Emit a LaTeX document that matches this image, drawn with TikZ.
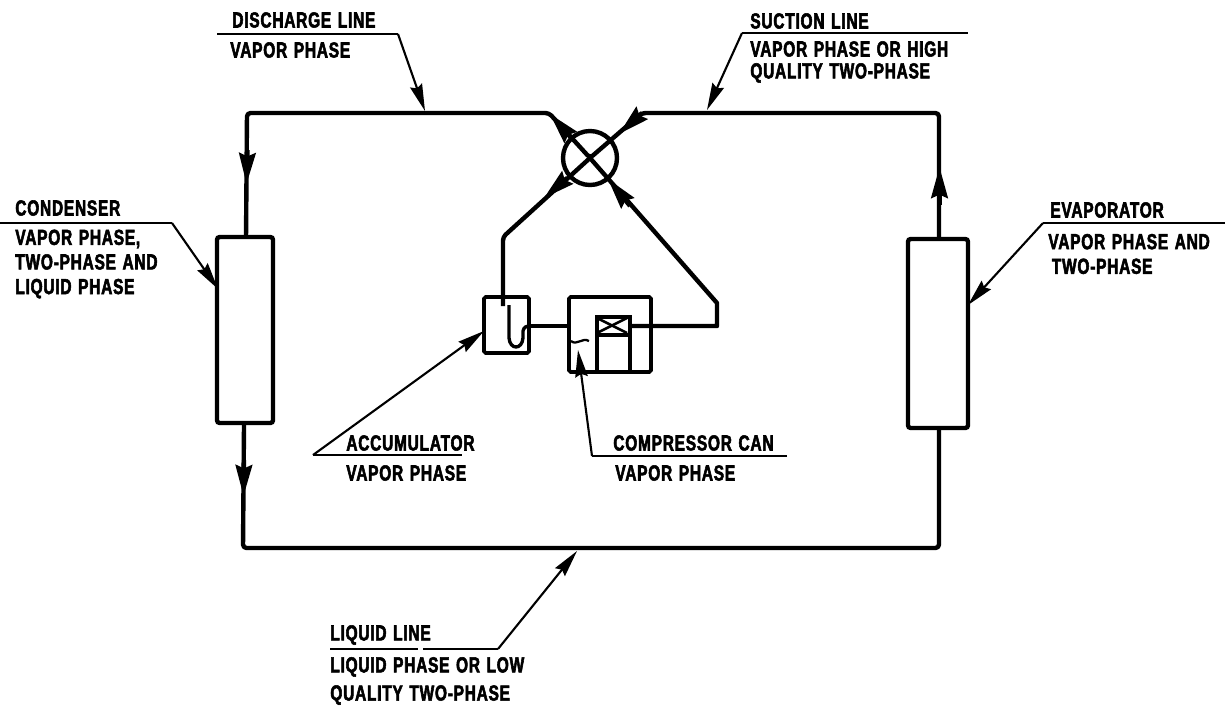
\documentclass[tikz,border=0pt]{standalone}
\usepackage{fontspec}
\newfontfamily\labelfont[FakeStretch=0.71, LetterSpace=3.5, WordSpace=1.3, BoldFont={Liberation Sans Bold}, BoldFeatures={FakeBold=2.5}]{Liberation Sans}
\usetikzlibrary{arrows.meta}
\tikzset{
    pipe/.style={line width=2.5pt, line join=round},
    leader/.style={line width=1.2pt, >={Stealth[length=0.54cm, width=0.25cm, inset=0.06cm]}},
    caption/.style={anchor=west, inner sep=0pt, align=left, font=\fontsize{12.4}{14}\labelfont\bfseries},
    unit/.style={draw, line width=2.5pt, fill=white, rounded corners=1.5pt}
}
\begin{document}
\begin{tikzpicture}[x=0.02cm, y=-0.02cm, >={Stealth[length=0.62cm, width=0.33cm, inset=0.07cm]}]
    % 1. Page frame
    \useasboundingbox (0, 0) rectangle (1225, 708);

    % 2. Points of the loop
    \coordinate (cornerTL) at (247, 113);
    \coordinate (cornerTR) at (939, 113);
    \coordinate (cornerBL) at (243, 548);
    \coordinate (cornerBR) at (939, 548);
    \coordinate (bendTL) at (549, 113);
    \coordinate (bendTR) at (642, 113);
    \coordinate (bendA) at (503, 237);
    \coordinate (bendC) at (717, 303);
    \coordinate (bendD) at (717, 326);

    % 3. Loop lines
    \draw[pipe, rounded corners=2pt] (246, 240) -- (cornerTL) -- (bendTL) -- (590, 158) -- (bendTR) -- (cornerTR) -- (939, 240);
    \draw[pipe, rounded corners=2pt] (244, 425) -- (cornerBL) -- (cornerBR) -- (939, 428);
    \draw[pipe, rounded corners=2pt] (503, 306) -- (bendA) -- (590, 158);
    \draw[pipe] (590, 158) -- (bendC) -- (bendD) -- (630, 326);

    % 4. Main units
    \node[unit, minimum width=1.12cm, minimum height=3.72cm] (condenser) at (245, 330) {};
    \node[unit, minimum width=1.2cm, minimum height=3.78cm] (evaporator) at (938, 333.5) {};
    \node[draw, circle, line width=2.5pt, minimum size=1.08cm, inner sep=0pt] (valve) at (590, 158) {};

    % 5. Flow arrows
    \draw[pipe, ->] (247.5, 150) -- (246.5, 184);
    \draw[pipe, ->] (244, 460) -- (243.5, 496);
    \draw[pipe, ->] (939.5, 205) -- (939.5, 167);
    \draw[pipe, ->] (573, 140) -- (550, 114);
    \draw[pipe, ->] (642, 113) -- (619, 134);
    \draw[pipe, ->] (567, 178) -- (544, 198);
    \draw[pipe, ->] (630, 206) -- (608, 179);

    % 6. Inside the accumulator and the can
    \node[draw, line width=2.1pt, rounded corners=1pt, minimum width=0.9cm, minimum height=1.12cm] (accumulator) at (506.5, 325) {};
    \node[draw, line width=2.1pt, rounded corners=1pt, minimum width=1.64cm, minimum height=1.5cm] (can) at (610, 334.5) {};
    \draw[line width=1.9pt] (509, 305) -- (509, 338) .. controls (510, 350) and (522, 350) .. (523, 338) -- (523, 331) .. controls (524, 327) and (526, 326) .. (accumulator.east |- bendD);
    \draw[line width=1.9pt] (accumulator.east |- bendD) -- (can.west |- bendD);
    \draw[line width=1.3pt] (571, 341) .. controls (577, 346) and (582, 337) .. (589, 341);
    \node[draw, line width=2pt, minimum width=0.66cm, minimum height=1.1cm, anchor=north west] (motor) at (595, 315) {};
    \draw[line width=2pt] (motor.west |- 0, 335) -- (motor.east |- 0, 335);
    \draw[line width=1.5pt] (597, 318) -- (627, 333);
    \draw[line width=1.5pt] (597, 333) -- (627, 318);

    % 7. Leaders
    \draw[leader] (217, 34) -- (398, 34);
    \draw[leader, ->] (398, 34) -- (425, 111);
    \draw[leader] (742, 33) -- (968, 33);
    \draw[leader, ->] (742, 33) -- (707, 110);
    \draw[leader] (0, 223) -- (172, 223);
    \draw[leader, ->] (172, 223) -- (218, 289);
    \draw[leader] (1225, 223) -- (1043, 223);
    \draw[leader, ->] (1043, 223) -- (968, 305);
    \draw[leader] (313, 455) -- (462, 455);
    \draw[leader, ->] (313, 455) -- (484, 331);
    \draw[leader] (787, 456) -- (592, 456);
    \draw[leader, ->] (592, 456) -- (578, 350);
    \draw[leader] (330, 649) -- (418, 649);
    \draw[leader] (423, 649) -- (498, 649);
    \draw[leader, ->] (498, 649) -- (577, 551);

    % 8. Labels
    \node[caption] (dischargeName) at (232, 20) {DISCHARGE LINE};
    \node[caption] (dischargePhase) at (230, 50) {VAPOR PHASE};
    \node[caption] (suctionName) at (750, 21) {SUCTION LINE};
    \node[caption] (suctionPhase) at (750, 62) {VAPOR PHASE OR HIGH\\[-1.5pt]QUALITY TWO-PHASE};
    \node[caption] (condenserName) at (15, 208) {CONDENSER};
    \node[caption] (condenserPhase) at (15, 264) {VAPOR PHASE,\\TWO-PHASE AND\\LIQUID PHASE};
    \node[caption] (evaporatorName) at (1050, 210) {EVAPORATOR};
    \node[caption] (evaporatorPhase) at (1048, 254) {VAPOR PHASE AND\\\hspace*{2pt}TWO-PHASE};
    \node[caption] (accumulatorName) at (346, 443) {ACCUMULATOR};
    \node[caption] (accumulatorPhase) at (346, 473) {VAPOR PHASE};
    \node[caption] (canName) at (613, 443) {COMPRESSOR CAN};
    \node[caption] (canPhase) at (615, 473) {VAPOR PHASE};
    \node[caption] (liquidName) at (330, 635) {LIQUID LINE};
    \node[caption] (liquidPhase) at (330, 681) {LIQUID PHASE OR LOW\\[2pt]QUALITY TWO-PHASE};
\end{tikzpicture}
\end{document}
